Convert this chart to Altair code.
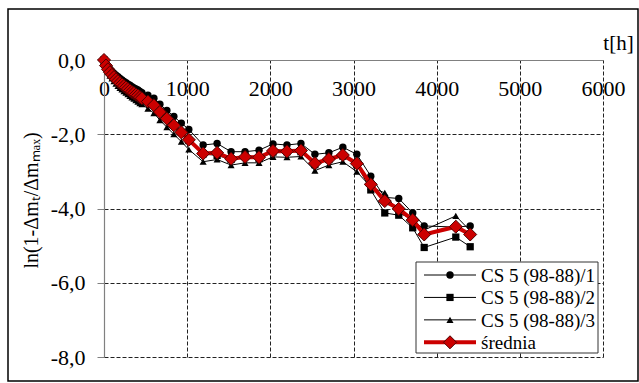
import altair as alt
import pandas as pd

# Measurement times [h]
hours = [0, 24, 48, 72, 96, 120, 144, 168, 192, 216, 240, 264, 288, 312, 336, 360,
         384, 408, 432, 456, 528, 600, 672, 756, 840, 930, 1020, 1192, 1360, 1528,
         1696, 1864, 2032, 2200, 2368, 2536, 2704, 2872, 3040, 3208, 3376, 3544,
         3712, 3850, 4230, 4403]

# ln(1 - dm_t / dm_max) for each specimen
cs5_1 = [0, -0.11, -0.19, -0.25, -0.31, -0.36, -0.41, -0.45, -0.50, -0.54, -0.58,
         -0.61, -0.65, -0.68, -0.72, -0.75, -0.78, -0.81, -0.85, -0.88, -0.95, -1.03,
         -1.19, -1.36, -1.52, -1.70, -1.87, -2.29, -2.25, -2.47, -2.47, -2.43, -2.26,
         -2.29, -2.25, -2.54, -2.50, -2.35, -2.54, -3.13, -3.70, -3.73, -4.12, -4.47,
         -4.50, -4.47]
cs5_2 = [0, -0.14, -0.24, -0.32, -0.39, -0.45, -0.51, -0.56, -0.61, -0.65, -0.68,
         -0.73, -0.77, -0.81, -0.85, -0.88, -0.93, -0.95, -0.99, -1.02, -1.10, -1.20,
         -1.39, -1.57, -1.76, -1.95, -2.17, -2.53, -2.57, -2.68, -2.59, -2.66, -2.48,
         -2.47, -2.47, -2.82, -2.68, -2.59, -2.82, -3.50, -4.12, -4.18, -4.52, -5.05,
         -4.77, -5.03]
cs5_3 = [0, -0.20, -0.32, -0.42, -0.50, -0.57, -0.64, -0.70, -0.75, -0.79, -0.84,
         -0.88, -0.92, -0.97, -1.01, -1.04, -1.08, -1.12, -1.16, -1.19, -1.31, -1.43,
         -1.62, -1.81, -2.00, -2.20, -2.41, -2.74, -2.68, -2.83, -2.77, -2.77, -2.61,
         -2.62, -2.60, -2.98, -2.83, -2.74, -3.01, -3.42, -3.58, -4.12, -4.29, -4.58,
         -4.20, -4.60]
srednia = [0, -0.15, -0.25, -0.33, -0.40, -0.46, -0.52, -0.57, -0.62, -0.66, -0.70,
           -0.74, -0.78, -0.82, -0.86, -0.89, -0.93, -0.96, -1.00, -1.03, -1.12, -1.22,
           -1.40, -1.58, -1.76, -1.95, -2.15, -2.52, -2.50, -2.66, -2.61, -2.62, -2.45,
           -2.46, -2.44, -2.78, -2.67, -2.56, -2.79, -3.35, -3.80, -4.01, -4.31, -4.70,
           -4.49, -4.70]

names = ["CS 5 (98-88)/1", "CS 5 (98-88)/2", "CS 5 (98-88)/3", "średnia"]
x_ticks = [0, 1000, 2000, 3000, 4000, 5000, 6000]
y_ticks = [-8, -6, -4, -2, 0]

FONT = "'Liberation Serif', 'Times New Roman', Times, serif"
RED = "#cc0000"
DARK_RED = "#4d0000"

rows = []
for name, vals in zip(names, [cs5_1, cs5_2, cs5_3, srednia]):
    for t, v in zip(hours, vals):
        rows.append({"t": t, "v": v, "s": name})
df = pd.DataFrame(rows)
legend_df = pd.DataFrame({"s": names, "row": list(range(len(names)))})

shape_scale = alt.Scale(domain=names[:3], range=["circle", "square", "triangle-up"])
size_scale = alt.Scale(domain=names[:3], range=[55, 50, 60])

x_enc = alt.X(
    "t:Q",
    scale=alt.Scale(domain=[0, 6000], nice=False, zero=False),
    axis=alt.Axis(
        orient="top", values=x_ticks, format="d", ticks=False,
        labelPadding=-28, labelBaseline="middle", labelFont=FONT, labelFontSize=22,
        labelColor="black", labelFlush=False, labelOverlap=False,
        domainColor="#808080", domainWidth=1.2,
        grid=True, gridColor="#222222", gridDash=[4, 2], gridWidth=1,
        title="t[h]", titleX=514, titleY=-17, titleAlign="center",
        titleBaseline="middle", titleFont=FONT, titleFontSize=21,
        titleFontWeight="normal", titleColor="black",
    ),
)
y_enc = alt.Y(
    "v:Q",
    scale=alt.Scale(domain=[-8, 0], nice=False, zero=False),
    axis=alt.Axis(
        values=y_ticks,
        labelExpr="(datum.value < 0 ? '-' : '') + replace(format(abs(datum.value), '.1f'), '.', ',')",
        tickSize=7, tickColor="#808080", labelPadding=12,
        labelFont=FONT, labelFontSize=22, labelColor="black",
        domainColor="#808080", domainWidth=1.2,
        grid=True, gridColor="#222222", gridDash=[4, 2], gridWidth=1,
        title="ln(1-Δmₜ/Δmₘₐₓ)", titleAngle=270, titleX=-73, titleY=140,
        titleAlign="center", titleBaseline="middle", titleFont=FONT,
        titleFontSize=20, titleFontWeight="normal", titleColor="black",
    ),
)

base = alt.Chart(df)
specimens = base.transform_filter(alt.datum.s != "średnia")
mean = base.transform_filter(alt.datum.s == "średnia")

spec_lines = specimens.mark_line(color="black", strokeWidth=1).encode(
    x=x_enc, y=y_enc, detail="s:N", order="t:Q"
)
spec_points = specimens.mark_point(filled=True, color="black", opacity=1).encode(
    x="t:Q", y="v:Q",
    shape=alt.Shape("s:N", scale=shape_scale, legend=None),
    size=alt.Size("s:N", scale=size_scale, legend=None),
)
mean_line = mean.mark_line(color=RED, strokeWidth=4).encode(
    x="t:Q", y="v:Q", order="t:Q"
)
mean_points = mean.mark_point(
    shape="diamond", filled=True, fill=RED, stroke=DARK_RED, strokeWidth=1,
    size=170, opacity=1
).encode(x="t:Q", y="v:Q")

plot = alt.layer(spec_lines, spec_points, mean_line, mean_points)

# Legend box drawn inside the plot area
row_y = alt.Y("row:O", scale=alt.Scale(type="point", domain=[0, 1, 2, 3],
                                      range=[215, 282.3], padding=0), axis=None)
leg = alt.Chart(legend_df)
leg_spec = leg.transform_filter(alt.datum.s != "średnia")
leg_mean = leg.transform_filter(alt.datum.s == "średnia")

leg_box = alt.Chart(alt.Data(values=[{"k": 0}])).mark_rect(
    fill="white", stroke="#333333", strokeWidth=1
).encode(x=alt.value(312), x2=alt.value(494), y=alt.value(202), y2=alt.value(293))
leg_spec_lines = leg_spec.mark_rule(color="black", strokeWidth=1).encode(
    x=alt.value(320), x2=alt.value(372), y=row_y
)
leg_mean_line = leg_mean.mark_rule(color=RED, strokeWidth=4).encode(
    x=alt.value(320), x2=alt.value(372), y=row_y
)
leg_spec_points = leg_spec.mark_point(filled=True, color="black", opacity=1).encode(
    x=alt.value(346), y=row_y,
    shape=alt.Shape("s:N", scale=shape_scale, legend=None),
    size=alt.Size("s:N", scale=size_scale, legend=None),
)
leg_mean_point = leg_mean.mark_point(
    shape="diamond", filled=True, fill=RED, stroke=DARK_RED, strokeWidth=1,
    size=170, opacity=1
).encode(x=alt.value(346), y=row_y)
leg_text = leg.mark_text(
    align="left", baseline="middle", font=FONT, fontSize=19, color="black", dy=1
).encode(x=alt.value(377), y=row_y, text="s:N")
legend = alt.layer(leg_box, leg_spec_lines, leg_mean_line, leg_spec_points,
                   leg_mean_point, leg_text)

# Frame around the whole figure
frame = alt.Chart(alt.Data(values=[{"k": 0}])).mark_rect(
    fill="transparent", stroke="black", strokeWidth=1.5
).encode(x=alt.value(-96), x2=alt.value(534), y=alt.value(-51), y2=alt.value(321))

chart = (
    alt.layer(frame, plot, legend)
    .resolve_scale(y="independent")
    .properties(
        width=499, height=297,
        autosize=alt.AutoSizeParams(type="none"),
        padding={"left": 104, "top": 60, "right": 36, "bottom": 26},
        background="white",
    )
    .configure_view(stroke=None)
)

chart.save("out.html", embed_options={"renderer": "svg", "actions": False})
